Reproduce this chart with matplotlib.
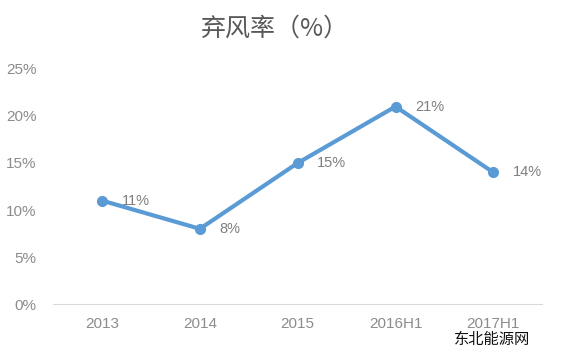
import matplotlib
matplotlib.use('Agg')
import matplotlib.pyplot as plt

plt.rcParams['font.family'] = ['Noto Sans CJK SC', 'DejaVu Sans']

# Data
categories = ['2013', '2014', '2015', '2016H1', '2017H1']
curtailment = [11, 8, 15, 21, 14]
yticks = [0, 5, 10, 15, 20, 25]

num_font = ['Liberation Sans', 'DejaVu Sans']

fig = plt.figure(figsize=(5.66, 3.59), dpi=100)
ax = fig.add_axes([0.094, 0.153, 0.864, 0.655])

x = range(len(categories))
ax.plot(x, curtailment, color='#5b9bd5', linewidth=3, marker='o', markersize=7)

for xi, v in zip(x, curtailment):
    ax.annotate(f'{v}%', (xi, v), xytext=(14, 0), textcoords='offset points',
                ha='left', va='center', fontsize=10.5, color='#7f7f7f',
                family=num_font)

ax.set_xlim(-0.5, len(categories) - 0.5)
ax.set_ylim(0, 25)
ax.set_yticks(yticks)
ax.set_yticklabels([f'{t}%' for t in yticks], family=num_font)
ax.set_xticks(list(x))
ax.set_xticklabels(categories, family=num_font)
ax.tick_params(axis='both', length=0, labelsize=11, labelcolor='#8c8c8c')
ax.tick_params(axis='x', pad=9)
ax.tick_params(axis='y', pad=12)

for s in ['top', 'right', 'left']:
    ax.spines[s].set_visible(False)
ax.spines['bottom'].set_color('#d9d9d9')

fig.text(0.486, 0.92, '弃风率（%）', ha='center', va='center', fontsize=18, color='#595959')
fig.text(0.87, 0.055, '东北能源网', ha='center', va='center', fontsize=11, color='#111111')

fig.savefig('out.png', dpi=100, facecolor='white')
